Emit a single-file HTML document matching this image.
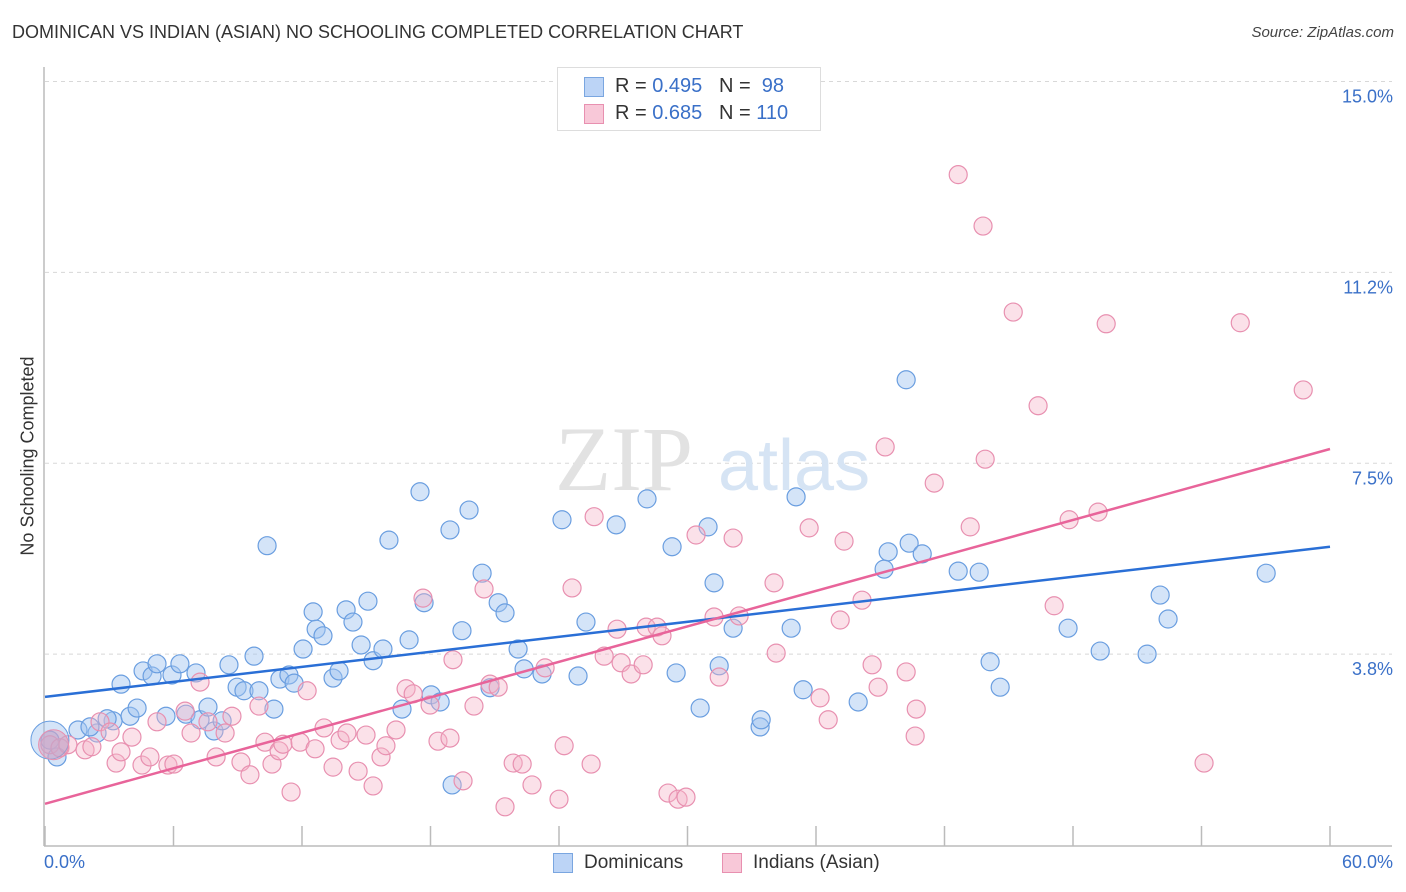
<!DOCTYPE html>
<html><head><meta charset="utf-8"><style>
body{margin:0;background:#fff;font-family:"Liberation Sans",sans-serif;}
#wrap{position:relative;width:1406px;height:892px;overflow:hidden;}
.t{position:absolute;white-space:nowrap;}
</style></head><body>
<div id="wrap">
<div class="t" style="left:12px;top:22px;font-size:18px;color:#333;">DOMINICAN VS INDIAN (ASIAN) NO SCHOOLING COMPLETED CORRELATION CHART</div>
<div class="t" style="right:12px;top:24px;font-size:15px;color:#444;font-style:italic;">Source: ZipAtlas.com</div>
<svg id="svg" width="1406" height="892" style="position:absolute;left:0;top:0"></svg>
</div>
<script>
const xTicksPct=[0,6,12,18,24,30,36,42,48,54,60];
const yTicks=[3.75,7.5,11.25,15];
const yTickLabels=["3.8%","7.5%","11.2%","15.0%"];
const blueX=[0.56,0.23,1.54,2.43,2.10,3.18,2.90,3.97,4.30,3.55,4.58,5.00,5.23,5.93,6.30,7.05,5.65,6.58,7.24,7.61,7.89,8.27,8.59,8.97,9.29,9.99,9.76,10.69,10.37,10.97,11.39,11.63,12.05,12.52,12.66,12.98,13.45,13.73,14.06,14.38,14.76,15.08,15.32,15.78,16.06,16.67,17.00,17.51,17.70,18.03,18.45,18.91,19.01,19.47,19.80,20.41,20.78,21.16,21.48,22.09,22.37,23.21,24.14,24.89,25.26,26.67,28.11,29.28,29.47,30.59,30.96,31.24,31.48,32.13,33.39,33.44,34.84,35.07,35.40,37.97,39.18,39.37,40.21,40.35,40.96,42.64,43.62,44.13,44.60,47.77,49.27,51.46,52.07,52.44,57.02];
const blueY=[1.73,2.06,2.26,2.20,2.32,2.44,2.48,2.53,2.69,3.16,3.42,3.32,3.56,3.34,3.56,3.38,2.53,2.57,2.46,2.71,2.24,2.44,3.54,3.10,3.03,3.03,3.71,2.67,5.88,3.26,3.34,3.18,3.85,4.58,4.24,4.11,3.28,3.42,4.62,4.38,3.93,4.79,3.62,3.85,5.99,2.67,4.03,6.94,4.76,2.95,2.81,6.19,1.18,4.21,6.58,5.34,3.09,4.76,4.56,3.85,3.46,3.36,6.39,3.32,4.38,6.29,6.80,5.86,3.38,2.69,6.25,5.15,3.52,4.26,2.32,2.46,4.26,6.84,3.05,2.81,5.42,5.76,9.14,5.93,5.72,5.38,5.36,3.60,3.10,4.26,3.81,3.75,4.91,4.44,5.34];
const pinkX=[0.23,0.70,1.07,1.87,2.19,2.57,3.04,3.32,3.55,4.06,4.53,4.90,5.23,5.74,6.02,6.54,6.82,7.24,7.61,7.99,8.41,8.73,9.15,9.57,9.99,10.27,10.60,10.93,11.11,11.49,11.91,12.24,12.61,13.03,13.45,13.78,14.10,14.62,14.99,15.32,15.69,15.92,16.39,16.86,17.19,17.65,17.98,18.35,18.91,19.05,19.52,20.03,20.50,20.78,21.16,21.48,21.86,22.28,22.74,23.35,24.00,24.24,24.61,25.50,25.64,26.11,26.71,26.90,27.37,27.93,28.07,28.58,28.81,29.09,29.56,29.93,30.40,31.24,31.48,32.13,32.41,34.04,34.14,35.68,36.19,36.57,37.13,37.31,38.15,38.62,38.90,39.23,40.21,40.68,40.63,41.52,42.64,43.20,43.80,43.90,45.21,46.37,47.12,47.82,49.17,49.55,54.12,55.81,58.75];
const pinkY=[1.97,1.91,1.97,1.87,1.93,2.42,2.22,1.61,1.83,2.12,1.57,1.73,2.42,1.57,1.59,2.63,2.20,3.20,2.42,1.73,2.20,2.53,1.63,1.38,2.73,2.02,1.59,1.85,1.98,1.04,2.02,3.03,1.89,2.30,1.53,2.06,2.20,1.45,2.16,1.16,1.73,1.95,2.26,3.07,2.97,4.85,2.75,2.04,2.10,3.64,1.26,2.73,5.03,3.16,3.10,0.75,1.61,1.59,1.18,3.48,0.90,1.95,5.05,1.59,6.45,3.71,4.24,3.58,3.36,3.54,4.28,4.28,4.11,1.02,0.90,0.94,6.09,4.48,3.30,6.03,4.50,5.15,3.77,6.23,2.89,2.46,4.42,5.97,4.81,3.54,3.10,7.82,3.40,2.67,2.14,7.11,13.17,6.25,12.16,7.58,10.47,8.63,4.70,6.39,6.54,10.24,1.61,10.26,8.94];
const blueTrend=[2.91,5.86];
const pinkTrend=[0.81,7.78];
const X0=45,X1=1330,Y0=845,PXU=50.9;
const xs=v=>X0+v*(X1-X0)/60;
const ys=v=>Y0-v*PXU;
const svg=document.getElementById('svg');
const NS='http://www.w3.org/2000/svg';
function mk(tag,attrs,parent){const e=document.createElementNS(NS,tag);for(const k in attrs)e.setAttribute(k,attrs[k]);(parent||svg).appendChild(e);return e;}
// gridlines
yTicks.forEach((v,i)=>{
 const g=mk('line',{x1:45,x2:1392,y1:ys(v),y2:ys(v),stroke:'#d8d8d8','stroke-dasharray':'4,4'});
 
 
 const t=mk('text',{x:1393,y:ys(v)+21,'text-anchor':'end','font-size':18,fill:'#3a70c8','font-family':'Liberation Sans'});
 t.textContent=yTickLabels[i];
 
 
});
const topg=mk('line',{x1:45,x2:1392,y1:ys(15),y2:ys(15),stroke:'#d8d8d8','stroke-dasharray':'4,4'});
// axes
const ax=mk('line',{x1:44,x2:44,y1:67,y2:846,stroke:'#bbb','stroke-width':1.5});


const bx=mk('line',{x1:44,x2:1392,y1:846,y2:846,stroke:'#bbb','stroke-width':1.5});


xTicksPct.forEach(v=>{const l=mk('line',{x1:xs(v),x2:xs(v),y1:826,y2:846,stroke:'#bbb','stroke-width':1.5});
 
 });
// watermark
const w1=mk('text',{x:555,y:490,'font-size':92,fill:'#e2e2e2','font-family':'Liberation Serif'});w1.textContent='ZIP';


const w2=mk('text',{x:718,y:490,'font-size':72,fill:'#d6e4f4','font-family':'Liberation Sans'});w2.textContent='atlas';


// points
function pts(X,Y,fill,stroke,name){X.forEach((x,i)=>{const c=mk('circle',{cx:xs(x),cy:ys(Y[i]),r:9,fill:fill,stroke:stroke,'stroke-width':1.2});
 
 });}
pts(blueX,blueY,'rgba(160,195,240,0.45)','#6a9ee0','dominican-point');
pts(pinkX,pinkY,'rgba(245,180,200,0.4)','#e890b0','indian-point');
const bb=mk('circle',{cx:xs(0.23),cy:ys(2.06),r:19,fill:'rgba(160,195,240,0.45)',stroke:'#6a9ee0'});


const pb=mk('circle',{cx:xs(0.4),cy:ys(1.97),r:15,fill:'rgba(220,150,180,0.45)',stroke:'#e890b0'});


const bl=mk('line',{x1:xs(0),y1:ys(blueTrend[0]),x2:xs(60),y2:ys(blueTrend[1]),stroke:'#2a6fd6','stroke-width':2.5});


const pl=mk('line',{x1:xs(0),y1:ys(pinkTrend[0]),x2:xs(60),y2:ys(pinkTrend[1]),stroke:'#e8649a','stroke-width':2.5});


</script>
<div class="t" style="left:44px;top:852px;font-size:18px;color:#3a70c8;">0.0%</div>
<div class="t" style="right:13px;top:852px;font-size:18px;color:#3a70c8;">60.0%</div>
<div class="t" style="left:28px;top:456px;font-size:18px;color:#333;transform:translate(-50%,-50%) rotate(-90deg);">No Schooling Completed</div>
<div style="position:absolute;left:557px;top:67px;width:262px;height:62px;border:1px solid #ddd;background:#fff;font-size:20px;color:#333;">
 <div style="position:absolute;left:26px;top:9px;width:18px;height:18px;background:#bcd4f6;border:1px solid #7aa6e0;"></div>
 <div class="t" style="left:57px;top:7px;">R = <span style="color:#3a70c8">0.495</span>&nbsp;&nbsp;&nbsp;N = &nbsp;<span style="color:#3a70c8">98</span></div>
 <div style="position:absolute;left:26px;top:36px;width:18px;height:18px;background:#f8c8d8;border:1px solid #e890b0;"></div>
 <div class="t" style="left:57px;top:34px;">R = <span style="color:#3a70c8">0.685</span>&nbsp;&nbsp;&nbsp;N = <span style="color:#3a70c8">110</span></div>
</div>
<div style="position:absolute;left:553px;top:853px;width:18px;height:18px;background:#bcd4f6;border:1px solid #7aa6e0;"></div>
<div class="t" style="left:584px;top:852px;font-size:19px;color:#333;">Dominicans</div>
<div style="position:absolute;left:722px;top:853px;width:18px;height:18px;background:#f8c8d8;border:1px solid #e890b0;"></div>
<div class="t" style="left:753px;top:852px;font-size:19px;color:#333;">Indians (Asian)</div>
</body></html>
